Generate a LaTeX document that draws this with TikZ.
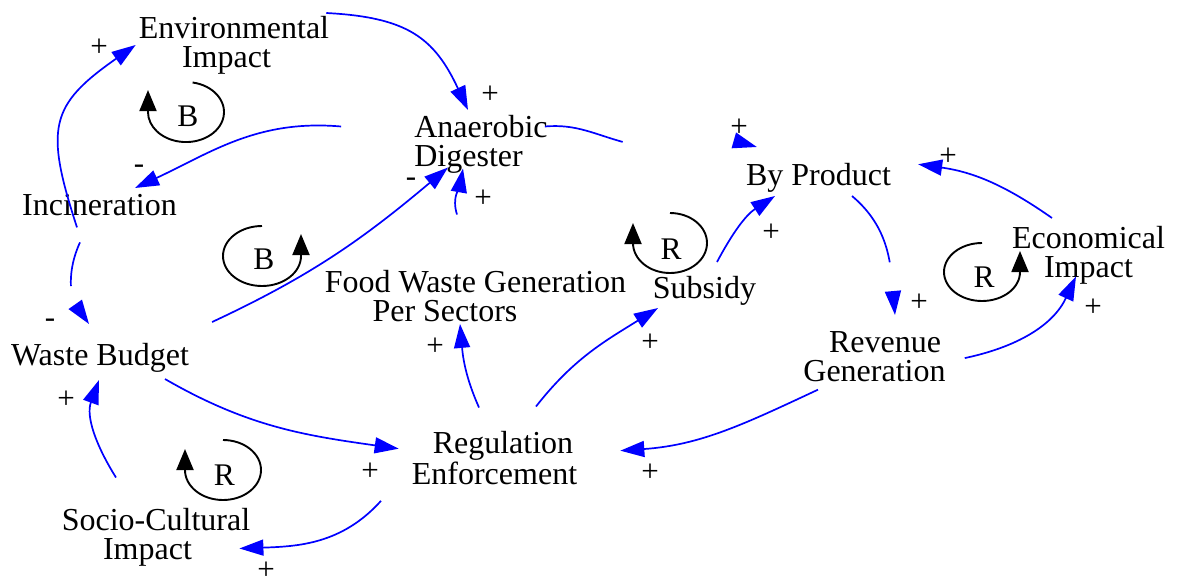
\documentclass[tikz,border=0pt]{standalone}
\usepackage{fontspec}
\setmainfont{Liberation Serif}
\usetikzlibrary{arrows.meta}

\begin{document}
\begin{tikzpicture}[x=1pt, y=1pt,
    var/.style={inner sep=0pt, anchor=north, align=center, font=\fontsize{32}{28.5}\selectfont},
    looplabel/.style={inner sep=0pt, font=\fontsize{31.5}{28.5}\selectfont},
    sign/.style={inner sep=0pt, font=\fontsize{31}{31}\selectfont},
    link/.style={draw=blue, line width=1.7pt, -{Triangle[length=24pt, width=16pt]}},
    part/.style={dash pattern=on #1 off 3000pt},
    loopline/.style={line width=1.9pt, -{Triangle[length=21pt, width=17pt]}}
]
\useasboundingbox (0,0) rectangle (1181,-584);

\node[var] (env) at (234,-16.5) {Environmental\\Impact\hspace*{15pt}};
\node[var, align=left] (ana) at (481,-115.5) {Anaerobic\\Digester};
\node[var] (inc) at (99.5,-194.5) {Incineration};
\node[var] (byp) at (818.5,-163.5) {By Product};
\node[var] (eco) at (1088.5,-226.5) {Economical\\Impact};
\node[var] (sub) at (704.5,-276.5) {Subsidy};
\node[var] (food) at (475.5,-270.5) {Food Waste Generation\\Per Sectors\hspace*{61pt}};
\node[var] (wb) at (100,-343.5) {Waste Budget};
\node[var] (rev) at (874.5,-331.5) {\hspace*{21pt}Revenue\\Generation};
\node[var] (reg) at (494.5,-431.5) {\hspace*{17pt}Regulation\\Enforcement};
\node[var] (soc) at (156,-508.5) {Socio-Cultural\\Impact\hspace*{17pt}};

\node[looplabel] (b1) at (188,-116) {B};
\node[looplabel] (b2) at (264,-259) {B};
\node[looplabel] (r1) at (671,-249) {R};
\node[looplabel] (r2) at (984,-277) {R};
\node[looplabel] (r3) at (224.5,-475) {R};

\draw[loopline] ([shift={(4.6,33.5)}]b1.center) arc[start angle=80, end angle=-180, x radius=38, y radius=30] -- ++(0,22);
\draw[loopline] ([shift={(-2,33)}]b2.center) arc[start angle=90, end angle=360, x radius=39, y radius=30] -- ++(0,22);
\draw[loopline] ([shift={(-1,36)}]r1.center) arc[start angle=90, end angle=-180, x radius=37, y radius=30] -- ++(0,20);
\draw[loopline] ([shift={(-2,34)}]r2.center) arc[start angle=90, end angle=360, x radius=38, y radius=29] -- ++(0,21);
\draw[loopline] ([shift={(-1.5,35)}]r3.center) arc[start angle=90, end angle=-180, x radius=38, y radius=30] -- ++(0,21);

\draw[link] ([shift={(-22.5,-11)}]inc.south) to[out=108, in=215, looseness=1.4] ([shift={(-3,0.5)}]env.west);
\draw[link] ([shift={(-3,3.5)}]env.north east) to[out=-3, in=115, looseness=1.2] ([shift={(-13,5.5)}]ana.north);
\draw[link] ([shift={(-73,18)}]ana.west) to[out=175, in=25] ([shift={(35.5,6.5)}]inc.north);
\draw[link] ([shift={(23,21.5)}]wb.north east) to[out=25, in=220] ([shift={(-33,6)}]ana.south);
\draw[link] ([shift={(-18.5,56)}]food.north) to[out=108, in=260] ([shift={(-18,5)}]ana.south);
\draw[link, part=80pt] ([shift={(-3,18)}]ana.east) to[out=5, in=165] ++(80,-16) to[out=-15, in=164] ([shift={(11,16.5)}]byp.north west);
\draw[link] ([shift={(12.5,14.5)}]sub.north) to[out=62, in=213] ([shift={(-43.5,-3)}]byp.south);
\draw[link, part=78pt] ([shift={(33.5,-3)}]byp.south) to[out=-40, in=95] ([shift={(20.5,16.5)}]rev.north);
\draw[link] ([shift={(-36.5,8.5)}]eco.north) to[out=145, in=-8] ([shift={(27,14)}]byp.east);
\draw[link] ([shift={(19,-1.5)}]rev.east) to[out=12, in=245] ([shift={(-12.5,8)}]eco.south);
\draw[link] ([shift={(-56.5,-8)}]rev.south) to[out=205, in=4] ([shift={(43,7.5)}]reg.east);
\draw[link] ([shift={(41.5,25)}]reg.north) to[out=52, in=212] ([shift={(-46.5,-2)}]sub.south);
\draw[link] ([shift={(-15.5,24)}]reg.north) to[out=114, in=-85] ([shift={(-15.5,-2)}]food.south);
\draw[link] ([shift={(65,-6)}]wb.south) to[out=-30, in=172] ([shift={(-13,9.5)}]reg.west);
\draw[link] ([shift={(-40,31)}]soc.north) to[out=122, in=-110] ([shift={(-1,-7)}]wb.south);
\draw[link] ([shift={(-113.5,-16)}]reg.south) to[out=228, in=2] ([shift={(-11,-11)}]soc.east);
\draw[link, part=45pt] ([shift={(-19.5,-26)}]inc.south) to[out=245, in=125] ([shift={(-11,19.5)}]wb.north);

\node[sign] (p1) at (99,-48) {+};
\node[sign] (p2) at (490,-95) {+};
\node[sign] (p3) at (139,-169.5) {-};
\node[sign] (p4) at (411,-182.5) {-};
\node[sign] (p5) at (483,-199) {+};
\node[sign] (p6) at (739,-128) {+};
\node[sign] (p7) at (771,-233) {+};
\node[sign] (p8) at (919,-303) {+};
\node[sign] (p9) at (948,-157) {+};
\node[sign] (p10) at (1093,-308) {+};
\node[sign] (p11) at (650,-473) {+};
\node[sign] (p12) at (650,-343) {+};
\node[sign] (p13) at (435,-347) {+};
\node[sign] (p14) at (370,-472) {+};
\node[sign] (p15) at (66,-400) {+};
\node[sign] (p16) at (266,-571) {+};
\node[sign] (p17) at (50,-323.5) {-};
\end{tikzpicture}
\end{document}
